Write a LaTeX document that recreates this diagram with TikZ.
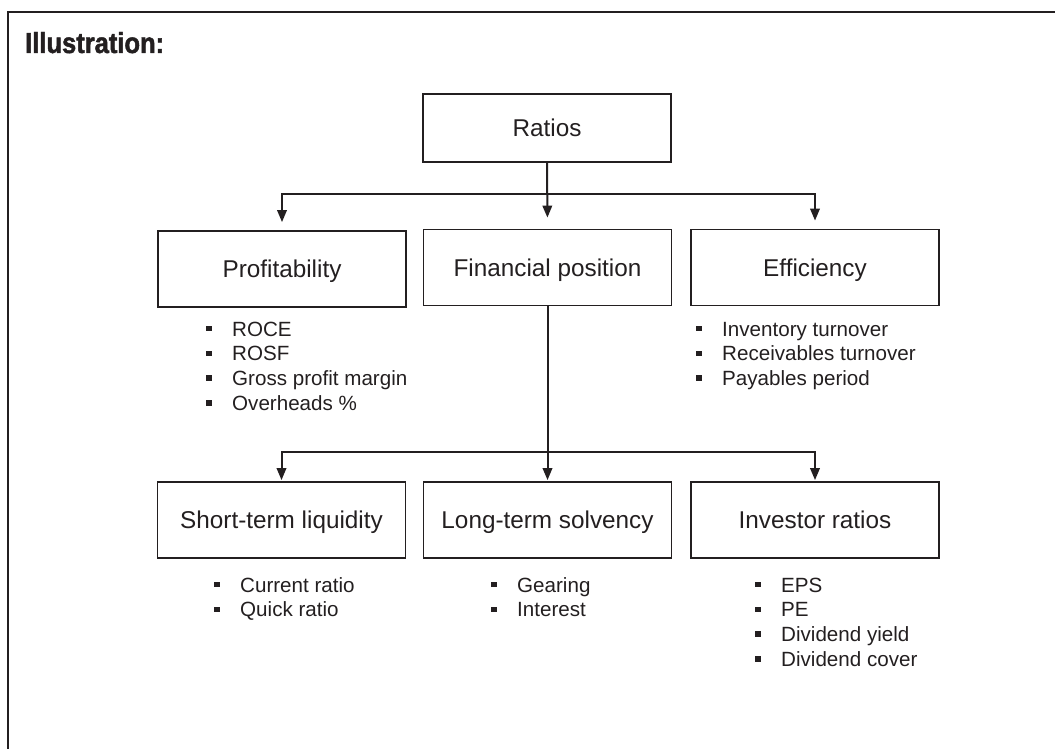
\documentclass[tikz,border=0pt]{standalone}
\usepackage{fontspec}
\setmainfont{Liberation Sans}
\newfontfamily\headfont[FakeStretch=0.88,FakeBold=1.6]{Liberation Sans Bold}
\usetikzlibrary{arrows.meta}
\definecolor{ink}{HTML}{231F20}

% small square bullet followed by the indent of the item text
\newcommand{\sqbullet}{\makebox[26pt][l]{\raisebox{4.7pt}{\rule{5.5pt}{5.5pt}}}}

\begin{document}
\begin{tikzpicture}[x=1pt,y=-1pt,
  box/.style={draw=ink, line width=1.8pt, minimum width=248pt, minimum height=76pt,
    inner sep=0pt, text=ink, font=\fontsize{24.3}{29}\selectfont,
    text height=17.4pt, text depth=0pt},
  item/.style={anchor=base west, inner sep=0pt, text=ink,
    font=\fontsize{20.6}{24.8}\selectfont},
  link/.style={draw=ink, line width=2pt},
  arr/.style={link, -{Triangle[length=12pt,width=9.5pt]}}]

\useasboundingbox (0,0) rectangle (1055,749);

% frame and heading
\draw[ink, line width=2.4pt] (1062,12) -- (8,12) -- (8,760);
\node[anchor=base west, inner sep=0pt, text=ink,
  font={\headfont\fontsize{29}{34}\selectfont}] (title) at (25,53) {Illustration:};

% boxes
\node[box, minimum height=68pt] (ratios) at (547,128) {Ratios};
\node[box] (prof)  at (282,269)   {Profitability};
\node[box] (fin)   at (547.5,267.5) {Financial position};
\node[box] (eff)   at (815,267.5) {Efficiency};
\node[box] (short) at (281.5,520) {Short-term liquidity};
\node[box] (long)  at (547.5,520) {Long-term solvency};
\node[box] (inv)   at (815,520)   {Investor ratios};

% upper branching
\coordinate (hrow) at (0,194);
\coordinate (j1) at (ratios.south |- hrow);
\draw[arr, shorten >=11pt] (ratios.south) -- (fin.north);
\draw[arr, shorten >=8pt] (j1) -| (prof.north);
\draw[arr, shorten >=8pt] (j1) -| (eff.north);

% lower branching
\coordinate (lrow) at (0,452);
\coordinate (j2) at (fin.south |- lrow);
\draw[arr, shorten >=1pt] (fin.south) -- (long.north);
\draw[arr, shorten >=1pt] (j2) -| (short.north);
\draw[arr, shorten >=1pt] (j2) -| (inv.north);

% bullet lists
\foreach \t [count=\i] in {ROCE, ROSF, Gross profit margin, Overheads \%}
  \node[item] (pl\i) at (206,{336+24.8*(\i-1)}) {\sqbullet\t};
\foreach \t [count=\i] in {Inventory turnover, Receivables turnover, Payables period}
  \node[item] (el\i) at (696,{336+24.8*(\i-1)}) {\sqbullet\t};
\foreach \t [count=\i] in {Current ratio, Quick ratio}
  \node[item] (sl\i) at (214,{592+24.8*(\i-1)}) {\sqbullet\t};
\foreach \t [count=\i] in {Gearing, Interest}
  \node[item] (ll\i) at (491,{592+24.8*(\i-1)}) {\sqbullet\t};
\foreach \t [count=\i] in {EPS, PE, Dividend yield, Dividend cover}
  \node[item] (il\i) at (755,{592+24.8*(\i-1)}) {\sqbullet\t};

\end{tikzpicture}
\end{document}
